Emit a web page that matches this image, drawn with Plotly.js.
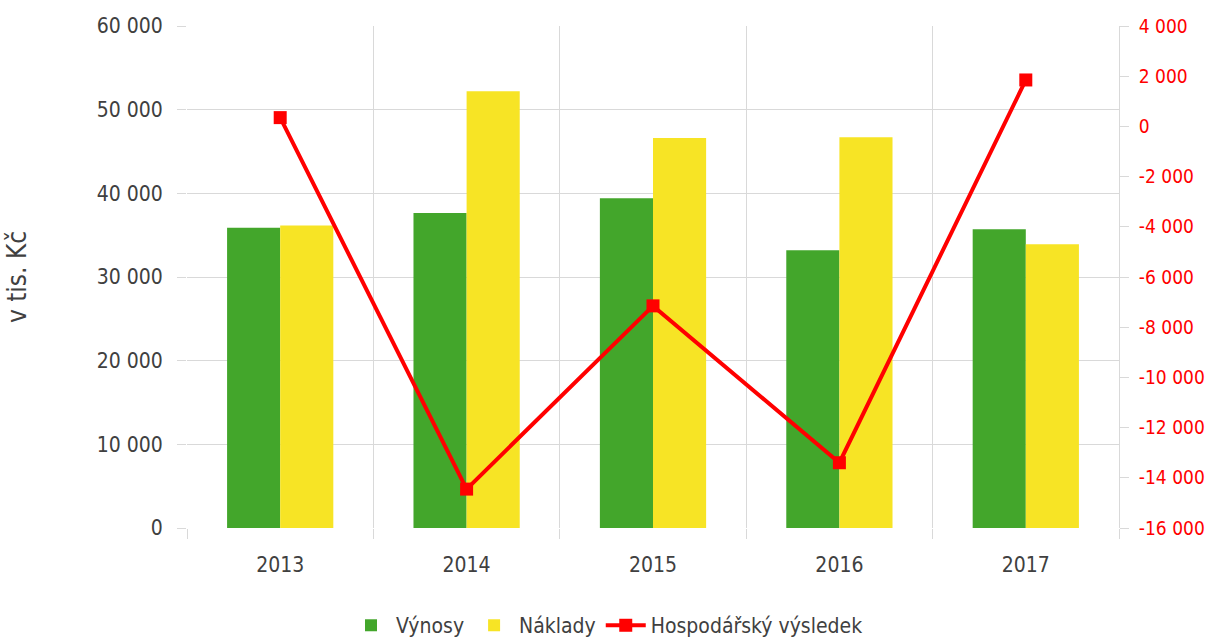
<!DOCTYPE html>
<html>
<head>
<meta charset="utf-8">
<script src="https://cdn.plot.ly/plotly-3.0.1.min.js"></script>
<style>html,body{margin:0;padding:0;background:#fff;}</style>
</head>
<body>
<div id="chart" style="width:1214px;height:641px;"></div>
<script>
const years = ["2013", "2014", "2015", "2016", "2017"];
const vynosy = [35900, 37650, 39400, 33200, 35700];
const naklady = [36150, 52200, 46600, 46700, 33900];
const hospodarskyVysledek = [350, -14450, -7150, -13400, 1850];
const rightTickVals = [4000, 2000, 0, -2000, -4000, -6000, -8000, -10000, -12000, -14000, -16000];
const rightTickText = ["4 000", "2 000", "0", "-2 000", "-4 000", "-6 000", "-8 000", "-10 000", "-12 000", "-14 000", "-16 000"];
const leftTickVals = [0, 10000, 20000, 30000, 40000, 50000, 60000];
const leftTickText = ["0", "10 000", "20 000", "30 000", "40 000", "50 000", "60 000"];

const FONT = "'Liberation Sans Narrow', 'DejaVu Sans Condensed', 'Roboto', sans-serif";
const txt = "#404040";
const grid = "#d9d9d9";

const traces = [
  {type: "bar", name: "Výnosy", x: years, y: vynosy, marker: {color: "#43A62B"}, yaxis: "y"},
  {type: "bar", name: "Náklady", x: years, y: naklady, marker: {color: "#F7E425"}, yaxis: "y"},
  {type: "scatter", mode: "lines+markers", name: "Hospodářský výsledek", x: years, y: hospodarskyVysledek,
   yaxis: "y2", line: {color: "#FF0000", width: 4}, marker: {symbol: "square", size: 13, color: "#FF0000"}}
];

const layout = {
  width: 1214, height: 641,
  margin: {l: 187, r: 95, t: 26, b: 113, autoexpand: false},
  paper_bgcolor: "#fff", plot_bgcolor: "#fff",
  font: {family: FONT, size: 21, color: txt},
  barmode: "group", bargap: 0.43, bargroupgap: 0,
  showlegend: true,
  legend: {orientation: "h", x: 0.5, xanchor: "center", xref: "container", y: 0.024, yanchor: "middle", yref: "container",
           font: {family: FONT, size: 21, color: txt}, itemwidth: 40, traceorder: "normal"},
  xaxis: {type: "category", tickson: "boundaries", showgrid: true, gridcolor: grid, gridwidth: 1,
          ticks: "outside", ticklen: 10, tickcolor: grid, tickwidth: 1, ticklabelstandoff: 22,
          showline: false, zeroline: false, tickfont: {size: 21, color: txt}, automargin: false},
  yaxis: {range: [0, 60000], tickvals: leftTickVals, ticktext: leftTickText, showgrid: true, gridcolor: grid, gridwidth: 1,
          ticks: "outside", ticklen: 9, tickcolor: grid, zeroline: false, showline: false, ticklabelstandoff: 10,
          tickfont: {size: 21, color: txt}, automargin: false,
          title: {text: "v tis. Kč", font: {size: 26, color: txt}, standoff: 62}},
  yaxis2: {overlaying: "y", side: "right", range: [-16000, 4000], tickvals: rightTickVals, ticktext: rightTickText,
           showgrid: false, zeroline: false, showline: true, linecolor: grid, linewidth: 1,
           ticks: "outside", ticklen: 9, tickcolor: grid, ticklabelstandoff: 6,
           tickfont: {size: 19, color: "#FF0000"}, automargin: false}
};

Plotly.newPlot("chart", traces, layout, {displayModeBar: false, staticPlot: true});
</script>
</body>
</html>
